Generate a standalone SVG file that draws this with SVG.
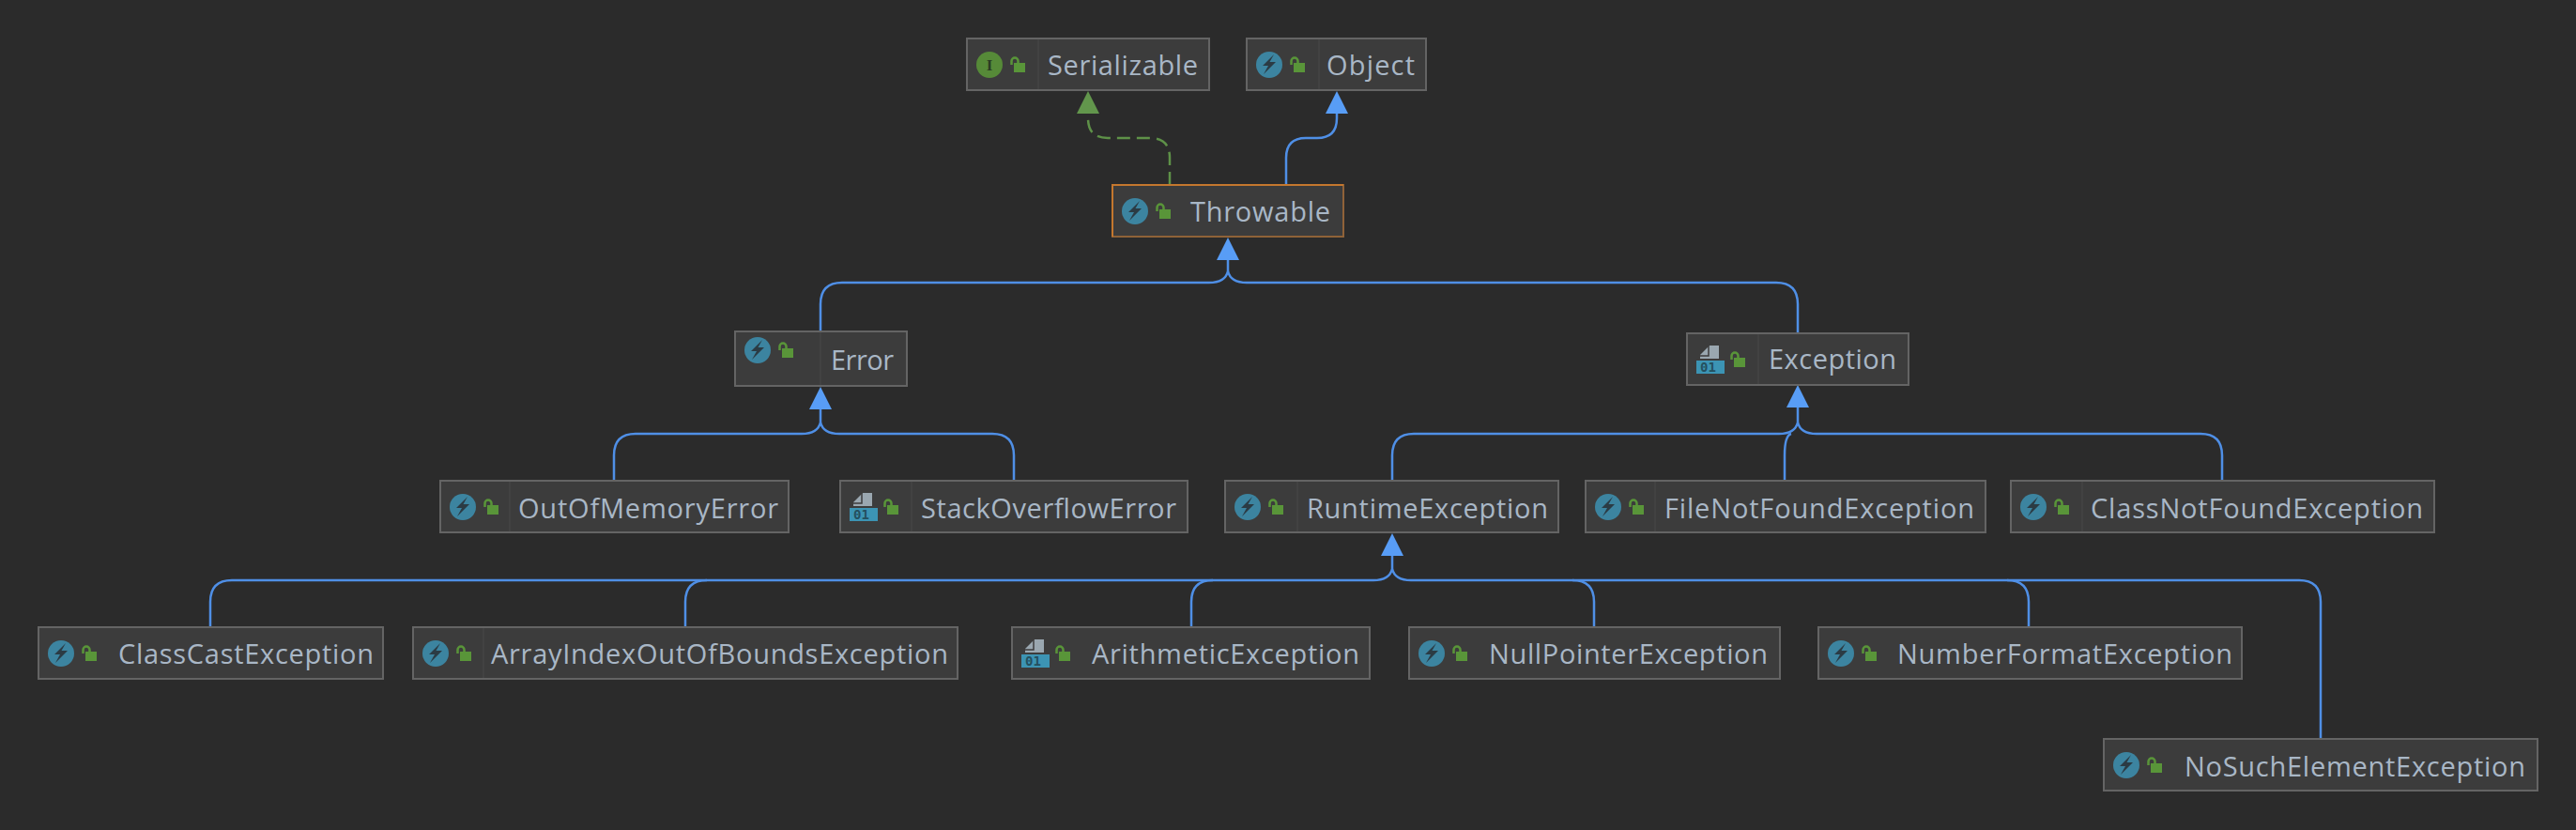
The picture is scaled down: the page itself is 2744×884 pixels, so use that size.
<svg xmlns="http://www.w3.org/2000/svg" width="2744" height="884" viewBox="0 0 2744 884">
<style>
.box{fill:#3c3c3c;stroke:#646464;stroke-width:2}
.hl{stroke:#8f6238}
.hlt{fill:none;stroke:#c4772e;stroke-width:2}
.div{stroke:#444;stroke-width:1.5}
text{font-family:"Open Sans","Noto Sans","Liberation Sans",sans-serif;font-size:29px;fill:#a9b7c6}
.edge{fill:none;stroke:#4f8fe6;stroke-width:2.5}
.dash{fill:none;stroke:#5e9148;stroke-width:2.5;stroke-dasharray:14 7}
.ah{fill:#589df6}.ahg{fill:#62964c}
.c{fill:#3c84a0}.bolt{fill:#2b3b44}.lock{fill:#599539}.sh{fill:none;stroke:#599539;stroke-width:2.5}
.cg{fill:#568a38}.doc{fill:#9aa7b0}.fold{fill:none;stroke:#3c3c3c;stroke-width:1.500}.bin{fill:#3c94b4}
.num{font-size:14px;font-family:"DejaVu Sans Mono",monospace;fill:#24505f;font-weight:bold}
.ii{font-size:17px;font-family:"Liberation Serif",serif;fill:#2b3b24;font-weight:bold}
</style>
<defs>
<g id="lk"><rect x="50" y="26" width="12" height="10" class="lock"/><path class="sh" d="M47.500 28v-4a3.500 3.500 0 0 1 7 0v2"/></g>
<g id="cl"><circle cx="24" cy="28" r="14" class="c"/><path class="bolt" d="M29 17l-12 12h6l-5 9 13-13h-6.500z"/></g>
<g id="bn"><path class="doc" d="M24 13h10v14h-20v-4z"/><path class="fold" d="M14 24h9v-11"/><rect x="10" y="29" width="30" height="14" class="bin"/><text x="14" y="41" class="num">01</text></g>
</defs>
<rect width="2744" height="884" fill="#2b2b2b"/>
<g id="connectors">
<path class="dash" d="M1246 197V168Q1246 147 1225 147H1180Q1159 147 1159 126V120"/>
<path class="edge" d="M1370 197V168Q1370 147 1391 147H1403Q1424 147 1424 126V118"/>
<path class="edge" d="M874 352V324Q874 301 897 301H1288Q1305 301 1308 289V275"/>
<path class="edge" d="M1915 355V324Q1915 301 1892 301H1328Q1311 301 1308 289"/>
<path class="edge" d="M654 512V485Q654 462 677 462H854Q871 462 874 450V434"/>
<path class="edge" d="M1080 512V485Q1080 462 1057 462H894Q877 462 874 450"/>
<path class="edge" d="M1483 512V485Q1483 462 1506 462H1895Q1912 462 1915 450V432"/>
<path class="edge" d="M1901 512V485Q1901 464 1908 462"/>
<path class="edge" d="M2367 512V485Q2367 462 2344 462H1935Q1918 462 1915 450"/>
<path class="edge" d="M224 668V641Q224 618 247 618H1463Q1480 618 1483 606V590"/>
<path class="edge" d="M730 668V641Q730 618 753 618"/>
<path class="edge" d="M1269 668V641Q1269 618 1292 618"/>
<path class="edge" d="M1698 668V641Q1698 618 1675 618"/>
<path class="edge" d="M2161 668V641Q2161 618 2138 618"/>
<path class="edge" d="M2472 787V641Q2472 618 2449 618H1503Q1486 618 1483 606"/>
<path class="ah" d="M1424 97l12 24h-24z"/>
<path class="ahg" d="M1159 97l12 24h-24z"/>
<path class="ah" d="M1308 253l12 24h-24z"/>
<path class="ah" d="M874 412l12 24h-24z"/>
<path class="ah" d="M1915 410l12 24h-24z"/>
<path class="ah" d="M1483 568l12 24h-24z"/>
</g>
<g id="Serializable"><rect class="box" x="1030" y="41" width="258" height="55"/><line class="div" x1="1106" y1="42" x2="1106" y2="95"/><g transform="translate(1030,41)"><circle cx="24" cy="28" r="14" class="cg"/><text x="24" y="34" text-anchor="middle" class="ii">I</text><use href="#lk"/></g><text x="1116" y="80" textLength="160">Serializable</text></g>
<g id="Object"><rect class="box" x="1328" y="41" width="191" height="55"/><line class="div" x1="1405" y1="42" x2="1405" y2="95"/><g transform="translate(1328,41)"><use href="#cl"/><use href="#lk"/></g><text x="1413" y="80" textLength="94">Object</text></g>
<g id="Throwable"><rect class="box hl" x="1185" y="197" width="246" height="55"/><path class="hlt" d="M1185 252V197H1431"/><g transform="translate(1185,197)"><use href="#cl"/><use href="#lk"/></g><text x="1268" y="236" textLength="149">Throwable</text></g>
<g id="Error"><rect class="box" x="783" y="353" width="183" height="58"/><line class="div" x1="874" y1="354" x2="874" y2="410"/><g transform="translate(783,345)"><use href="#cl"/><use href="#lk"/></g><text x="885" y="394" textLength="67">Error</text></g>
<g id="Exception"><rect class="box" x="1797" y="355" width="236" height="55"/><line class="div" x1="1873" y1="356" x2="1873" y2="409"/><g transform="translate(1797,355)"><use href="#bn"/><use href="#lk"/></g><text x="1884" y="393" textLength="136">Exception</text></g>
<g id="OutOfMemoryError"><rect class="box" x="469" y="512" width="371" height="55"/><line class="div" x1="543" y1="513" x2="543" y2="566"/><g transform="translate(469,512)"><use href="#cl"/><use href="#lk"/></g><text x="552" y="552" textLength="277">OutOfMemoryError</text></g>
<g id="StackOverflowError"><rect class="box" x="895" y="512" width="370" height="55"/><line class="div" x1="971" y1="513" x2="971" y2="566"/><g transform="translate(895,512)"><use href="#bn"/><use href="#lk"/></g><text x="981" y="552" textLength="272">StackOverflowError</text></g>
<g id="RuntimeException"><rect class="box" x="1305" y="512" width="355" height="55"/><line class="div" x1="1382" y1="513" x2="1382" y2="566"/><g transform="translate(1305,512)"><use href="#cl"/><use href="#lk"/></g><text x="1392" y="552" textLength="257">RuntimeException</text></g>
<g id="FileNotFoundException"><rect class="box" x="1689" y="512" width="426" height="55"/><line class="div" x1="1763" y1="513" x2="1763" y2="566"/><g transform="translate(1689,512)"><use href="#cl"/><use href="#lk"/></g><text x="1773" y="552" textLength="330">FileNotFoundException</text></g>
<g id="ClassNotFoundException"><rect class="box" x="2142" y="512" width="451" height="55"/><line class="div" x1="2218" y1="513" x2="2218" y2="566"/><g transform="translate(2142,512)"><use href="#cl"/><use href="#lk"/></g><text x="2227" y="552" textLength="354">ClassNotFoundException</text></g>
<g id="ClassCastException"><rect class="box" x="41" y="668" width="367" height="55"/><g transform="translate(41,668)"><use href="#cl"/><use href="#lk"/></g><text x="126" y="707" textLength="272">ClassCastException</text></g>
<g id="ArrayIndexOutOfBoundsException"><rect class="box" x="440" y="668" width="580" height="55"/><line class="div" x1="515" y1="669" x2="515" y2="722"/><g transform="translate(440,668)"><use href="#cl"/><use href="#lk"/></g><text x="523" y="707" textLength="487">ArrayIndexOutOfBoundsException</text></g>
<g id="ArithmeticException"><rect class="box" x="1078" y="668" width="381" height="55"/><g transform="translate(1078,668)"><use href="#bn"/><use href="#lk"/></g><text x="1163" y="707" textLength="285">ArithmeticException</text></g>
<g id="NullPointerException"><rect class="box" x="1501" y="668" width="395" height="55"/><g transform="translate(1501,668)"><use href="#cl"/><use href="#lk"/></g><text x="1586" y="707" textLength="297">NullPointerException</text></g>
<g id="NumberFormatException"><rect class="box" x="1937" y="668" width="451" height="55"/><g transform="translate(1937,668)"><use href="#cl"/><use href="#lk"/></g><text x="2021" y="707" textLength="357">NumberFormatException</text></g>
<g id="NoSuchElementException"><rect class="box" x="2241" y="787" width="462" height="55"/><g transform="translate(2241,787)"><use href="#cl"/><use href="#lk"/></g><text x="2327" y="827" textLength="363">NoSuchElementException</text></g>
</svg>
